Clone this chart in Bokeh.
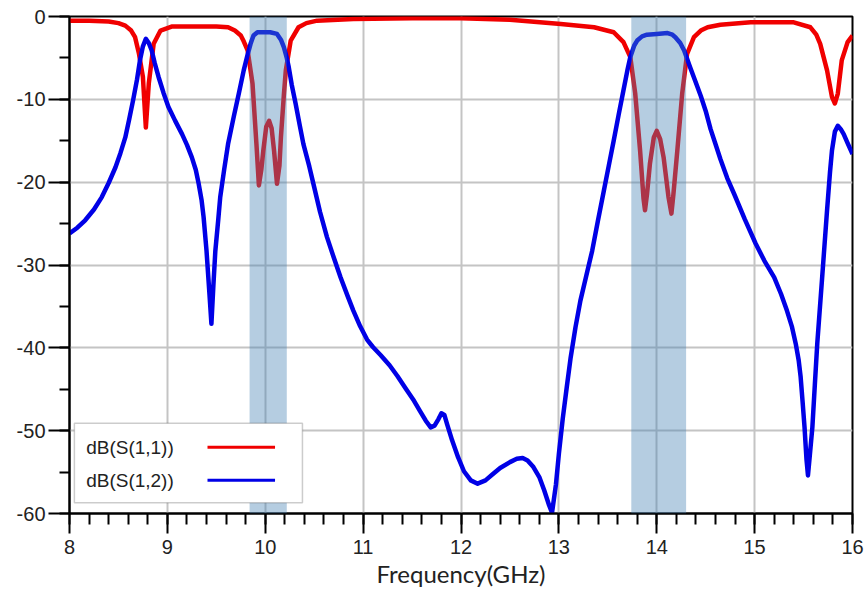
from bokeh.plotting import figure
from bokeh.models import BoxAnnotation, Label, FixedTicker, Range1d
from bokeh.embed import file_html
from bokeh.resources import INLINE
import numpy as np

# ---- data ----
freq_s11 = [8.00, 8.20, 8.40, 8.50, 8.57, 8.63, 8.67, 8.71, 8.75, 8.78, 8.81, 8.86, 8.93, 9.05,
            9.30, 9.50, 9.62, 9.69, 9.75, 9.78, 9.82, 9.87, 9.91, 9.935, 9.96, 9.98, 10.01, 10.04,
            10.065, 10.09, 10.12, 10.145, 10.16, 10.19, 10.21, 10.26, 10.34, 10.42, 10.53, 10.90,
            11.5, 12.0, 12.5, 13.02, 13.36, 13.56, 13.66, 13.73, 13.78, 13.83, 13.865, 13.88, 13.90,
            13.93, 13.97, 14.00, 14.035, 14.07, 14.12, 14.15, 14.17, 14.21, 14.26, 14.31, 14.38,
            14.45, 14.52, 14.65, 14.96, 15.40, 15.57, 15.63, 15.67, 15.74, 15.79, 15.82, 15.85,
            15.89, 15.95, 16.00]
s11_db = [-0.5, -0.5, -0.6, -0.8, -1.1, -1.7, -2.5, -4.5, -7.3, -13.4, -8.1, -3.3, -1.7, -1.2,
          -1.2, -1.2, -1.3, -1.7, -2.3, -3.0, -4.1, -8.1, -15.4, -20.4, -18.5, -16.2, -13.3, -12.6,
          -13.5, -16.2, -20.2, -18.0, -14.6, -9.5, -6.5, -2.9, -1.3, -0.8, -0.5, -0.3,
          -0.2, -0.2, -0.4, -0.9, -1.3, -1.9, -3.1, -4.9, -9.3, -16.2, -22.0, -23.4, -21.5,
          -17.8, -14.6, -13.8, -14.8, -17.0, -21.8, -23.8, -21.5, -16.2, -9.3, -4.5, -2.5,
          -1.7, -1.3, -1.0, -0.7, -0.7, -1.3, -2.2, -3.3, -6.5, -9.7, -10.5, -9.3,
          -5.3, -3.1, -2.3]

freq_s12 = [8.00, 8.08, 8.16, 8.25, 8.33, 8.40, 8.47, 8.52, 8.57, 8.61, 8.65, 8.69, 8.72, 8.75,
            8.78, 8.81, 8.84, 8.87, 8.91, 8.96, 9.01, 9.08, 9.15, 9.20, 9.25, 9.29, 9.32, 9.35,
            9.37, 9.40, 9.43, 9.45, 9.47, 9.49, 9.52, 9.54, 9.58, 9.62, 9.68, 9.73, 9.78, 9.82,
            9.85, 9.88, 9.92, 9.95, 10.05, 10.12, 10.16, 10.19, 10.22, 10.24, 10.27, 10.31, 10.35,
            10.39, 10.45, 10.50, 10.56, 10.63, 10.70, 10.77, 10.84, 10.90, 10.97, 11.04, 11.10,
            11.18, 11.27, 11.35, 11.44, 11.52, 11.58, 11.64, 11.69, 11.73, 11.77, 11.80, 11.83,
            11.86, 11.91, 11.97, 12.03, 12.10, 12.17, 12.25, 12.32, 12.40, 12.50, 12.57, 12.63,
            12.68, 12.74, 12.80, 12.85, 12.90, 12.93, 12.97, 13.00, 13.04, 13.08, 13.12, 13.17,
            13.22, 13.28, 13.34, 13.40, 13.46, 13.51, 13.56, 13.61, 13.66, 13.70, 13.73, 13.77,
            13.80, 13.85, 13.90, 14.00, 14.11, 14.16, 14.19, 14.24, 14.28, 14.34, 14.40, 14.45,
            14.50, 14.55, 14.60, 14.65, 14.72, 14.79, 14.90, 15.01, 15.10, 15.20, 15.27, 15.33,
            15.38, 15.42, 15.45, 15.47, 15.49, 15.51, 15.53, 15.545, 15.56, 15.59, 15.615, 15.64,
            15.69, 15.74, 15.77, 15.79, 15.82, 15.85, 15.88, 15.91, 15.95, 16.00]
s12_db = [-26.2, -25.5, -24.6, -23.3, -21.8, -20.1, -18.2, -16.5, -14.6, -12.4, -10.1, -7.6, -5.3, -3.6,
          -2.7, -3.2, -4.1, -5.6, -7.3, -9.2, -10.9, -12.6, -14.2, -15.5, -17.0, -18.5, -20.2, -22.2,
          -24.2, -28.3, -33.5, -37.1, -32.5, -28.3, -24.5, -21.8, -18.5, -15.4, -12.0, -9.3, -6.5, -4.6,
          -3.3, -2.3, -1.9, -1.9, -1.9, -2.1, -2.8, -3.7, -5.0, -6.1, -8.2, -10.5, -13.0,
          -15.4, -18.1, -20.6, -23.6, -26.6, -29.1, -31.5, -33.7, -35.5, -37.4, -39.0, -39.9,
          -40.9, -42.1, -43.4, -45.0, -46.4, -47.6, -48.8, -49.6, -49.4, -48.6, -47.9, -48.1,
          -49.3, -51.2, -53.2, -54.9, -56.0, -56.4, -56.0, -55.3, -54.5, -53.8, -53.4, -53.3,
          -53.6, -54.4, -55.6, -57.2, -59.0, -59.9, -56.5, -52.8, -48.5, -44.8, -41.2, -37.5,
          -34.3, -31.3, -28.3, -24.6, -21.0, -18.0, -15.0, -11.9, -8.9, -6.5, -4.9, -3.5,
          -2.9, -2.4, -2.2, -2.1, -2.0, -2.2, -2.5, -3.2, -4.1, -6.1, -8.0, -9.6,
          -11.4, -13.6, -15.4, -17.2, -19.5, -21.4, -24.5, -27.4, -29.5, -31.5, -33.5, -35.5,
          -37.4, -39.5, -41.5, -43.5, -46.5, -49.6, -53.5, -55.4, -53.5, -49.6, -44.5, -39.5,
          -31.5, -23.4, -18.8, -16.2, -13.9, -13.2, -13.6, -14.2, -15.3, -16.6]

x_ticks = [8, 9, 10, 11, 12, 13, 14, 15, 16]
x_tick_labels = ["8", "9", "10", "11", "12", "13", "14", "15", "16"]
y_ticks = [0, -10, -20, -30, -40, -50, -60]
y_tick_labels = ["0", "-10", "-20", "-30", "-40", "-50", "-60"]
bands = [(9.84, 10.22), (13.74, 14.30)]
series_names = ["dB(S(1,1))", "dB(S(1,2))"]

RED = "#f00000"
BLUE = "#0000e6"
FONT = "Liberation Sans"

p = figure(width=866, height=597, output_backend="svg", toolbar_location=None,
           x_range=Range1d(8, 16), y_range=Range1d(-60, 0),
           min_border_left=69, min_border_right=14, min_border_top=16, min_border_bottom=84)
p.background_fill_color = "white"
p.border_fill_color = "white"
p.outline_line_color = "black"
p.outline_line_width = 2

# grids
for g in (p.xgrid, p.ygrid):
    g.grid_line_color = "#c4c4c4"
    g.grid_line_width = 2

# curves
p.line(freq_s11, s11_db, line_color=RED, line_width=4.5, line_join="round")
p.line(freq_s12, s12_db, line_color=BLUE, line_width=4.5, line_join="round")

# shaded bands (drawn over curves)
for lo, hi in bands:
    p.add_layout(BoxAnnotation(left=lo, right=hi, fill_color="#4682b4", fill_alpha=0.4,
                               line_alpha=0))

# axes
minor_x = [round(v, 1) for v in np.arange(8, 16.01, 0.2)]
p.xaxis.ticker = FixedTicker(ticks=x_ticks, minor_ticks=minor_x)
p.xaxis.major_label_overrides = {t: l for t, l in zip(x_ticks, x_tick_labels)}
minor_y = [float(v) for v in np.arange(-60, 0.1, 5)]
p.yaxis.ticker = FixedTicker(ticks=y_ticks, minor_ticks=minor_y)
p.yaxis.major_label_overrides = {t: l for t, l in zip(y_ticks, y_tick_labels)}
p.xgrid.ticker = FixedTicker(ticks=x_ticks)
p.ygrid.ticker = FixedTicker(ticks=y_ticks)

for ax in (p.xaxis[0], p.yaxis[0]):
    ax.axis_line_color = "black"
    ax.axis_line_width = 2
    ax.major_tick_line_color = "black"
    ax.major_tick_line_width = 2
    ax.minor_tick_line_color = "black"
    ax.minor_tick_line_width = 2
    ax.major_tick_in = 0
    ax.minor_tick_in = 0
    ax.major_label_text_font = FONT
    ax.major_label_text_font_size = "20px"
    ax.major_label_text_color = "#222222"

p.xaxis.major_tick_out = 20
p.xaxis.minor_tick_out = 11
p.xaxis.major_label_standoff = 6
p.yaxis.major_tick_out = 21
p.yaxis.minor_tick_out = 10
p.yaxis.major_label_standoff = 3

p.xaxis.axis_label = "Frequency(GHz)"
p.xaxis.axis_label_text_font = "Lato"
p.xaxis.axis_label_text_font_size = "24px"
p.xaxis.axis_label_text_font_style = "normal"
p.xaxis.axis_label_text_color = "#222222"
p.xaxis.axis_label_standoff = 2

# custom legend (text left, line sample right)
p.add_layout(BoxAnnotation(left=8.05, right=10.38, top=-49.1, bottom=-58.7,
                           fill_color="white", fill_alpha=1.0,
                           line_color="#555555", line_width=1.5))
leg_y = [-52.0, -56.0]
for name, col, yy in zip(series_names, [RED, BLUE], leg_y):
    p.add_layout(Label(x=8.17, y=yy, text=name, text_font=FONT, text_font_size="19px",
                       text_baseline="middle", text_color="#222222", level="overlay"))
    p.line([9.41, 10.10], [yy, yy], line_color=col, line_width=3, level="overlay")

open("out.html", "w").write(file_html(p, INLINE))
